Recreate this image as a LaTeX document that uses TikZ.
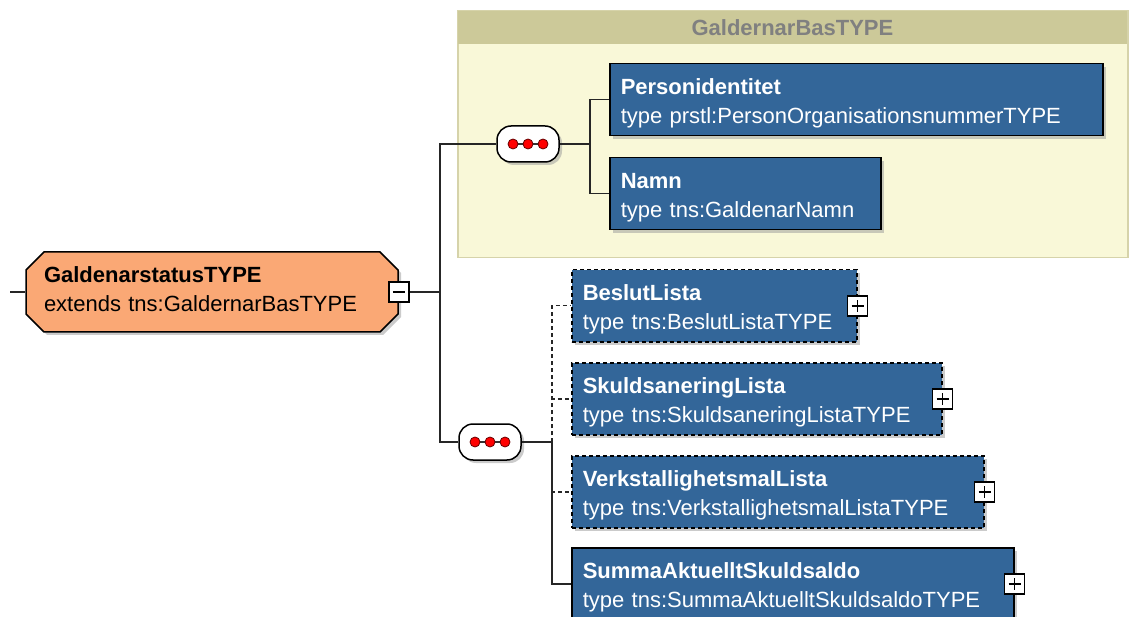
\documentclass[tikz,border=0pt]{standalone}
\usepackage{fontspec}
\setmainfont{Liberation Sans}
\usepackage{tikz}
\usetikzlibrary{shapes.misc}
\usetikzlibrary{shadows}

\definecolor{elemblue}{RGB}{51,102,153}
\definecolor{rootfill}{RGB}{250,168,117}
\definecolor{basbody}{RGB}{249,248,216}
\definecolor{bashead}{RGB}{204,201,153}
\definecolor{basline}{RGB}{214,211,170}
\definecolor{headtext}{RGB}{128,128,128}

\tikzset{
  boxshadow/.style={drop shadow={shadow xshift=3pt,shadow yshift=-3pt,fill=black!40,opacity=.5}},
  elem/.style={draw=black,line width=1.5pt,fill=elemblue,text=white,anchor=north west,
    minimum height=72pt,inner xsep=11pt,inner ysep=0pt,align=left,
    text height=16pt,text depth=26pt,boxshadow},
  optelem/.style={elem,dash pattern=on 4pt off 3pt},
  seqbox/.style={draw=black,line width=1.5pt,fill=white,rounded corners=14pt,
    minimum width=62pt,minimum height=36pt,inner sep=0pt,boxshadow},
  plusbox/.style={draw=black,line width=1.8pt,fill=white,minimum size=20pt,inner sep=0pt,
    path picture={
      \draw[line width=1.6pt] ([xshift=4pt]path picture bounding box.west) -- ([xshift=-4pt]path picture bounding box.east);
      \draw[line width=1.6pt] ([yshift=4pt]path picture bounding box.south) -- ([yshift=-4pt]path picture bounding box.north);
    }},
  minusbox/.style={draw=black,line width=1.8pt,fill=white,minimum size=20pt,inner sep=0pt,
    path picture={
      \draw[line width=1.6pt] ([xshift=4pt]path picture bounding box.west) -- ([xshift=-4pt]path picture bounding box.east);
    }},
  conn/.style={line width=1.5pt,black!85},
  optconn/.style={conn,dash pattern=on 4pt off 3pt}
}

\begin{document}
\begin{tikzpicture}[x=1pt,y=-1pt,
    font=\fontsize{22}{29}\selectfont]
  \useasboundingbox[fill=white] (0,0) rectangle (1129,617);

  % base type group
  \node[draw=basline,line width=1.5pt,fill=basbody,anchor=north west,
    minimum width=670pt,minimum height=247pt] (bas) at (457,10) {};
  \node[fill=bashead,anchor=north west,minimum width=669pt,minimum height=33pt,
    text=headtext,font=\fontsize{22}{29}\selectfont\bfseries] (bastitle)
    at ([xshift=0.75pt,yshift=-0.75pt]bas.north west) {GaldernarBasTYPE};

  \node[shape=chamfered rectangle,chamfered rectangle xsep=9pt,chamfered rectangle ysep=9pt,
    draw=black,line width=1.5pt,fill=rootfill,minimum width=372pt,minimum height=80pt,
    inner xsep=8pt,text width=336pt,align=left,text height=16pt,text depth=34pt,boxshadow]
    (root) at (212,292) {\textbf{GaldenarstatusTYPE}\\extends tns:GaldernarBasTYPE};
  \node[minusbox] (fold) at (root.east) {};

  \node[seqbox] (seqa) at (528,144) {};
  \node[seqbox] (seqb) at (490,442) {};
  \foreach \s in {seqa,seqb} {
    \draw[line width=1.6pt,black!80] ([xshift=-15pt]\s.center) -- ([xshift=15pt]\s.center);
    \foreach \d in {-15,0,15}
      \filldraw[fill=red,draw=red!40!black,line width=.8pt] ([xshift=\d pt]\s.center) circle (5pt);
  }

  \node[elem,text width=471pt] (pid) at (609,63)
    {\textbf{Personidentitet}\\type prstl:PersonOrganisationsnummerTYPE};
  \node[elem,text width=249pt] (namn) at (609,157)
    {\textbf{Namn}\\type tns:GaldenarNamn};

  \node[optelem,text width=263pt] (beslut) at (571,269)
    {\textbf{BeslutLista}\\type tns:BeslutListaTYPE};
  \node[optelem,text width=348pt] (skulds) at (571,362)
    {\textbf{SkuldsaneringLista}\\type tns:SkuldsaneringListaTYPE};
  \node[optelem,text width=390pt] (verk) at (571,455)
    {\textbf{VerkstallighetsmalLista}\\type tns:VerkstallighetsmalListaTYPE};
  \node[elem,text width=420pt] (summa) at (571,547)
    {\textbf{SummaAktuelltSkuldsaldo}\\type tns:SummaAktuelltSkuldsaldoTYPE};

  \node[plusbox] (beslutplus) at (beslut.east) {};
  \node[plusbox] (skuldsplus) at (skulds.east) {};
  \node[plusbox] (verkplus) at (verk.east) {};
  \node[plusbox] (summaplus) at (summa.east) {};

  \coordinate (in) at (10,292);
  \coordinate (fork) at (440,292);
  \coordinate (forka) at (590,144);
  \coordinate (forkb) at (552,442);

  \draw[conn] (in) -- (root.west);
  \draw[conn] (fold.east) -- (fork) |- (seqa.west);
  \draw[conn] (fork) |- (seqb.west);
  \draw[conn] (seqa.east) -- (forka) |- (pid.west);
  \draw[conn] (forka) |- (namn.west);
  \draw[optconn] (forkb) |- (beslut.west);
  \draw[optconn] (forkb) |- (skulds.west);
  \draw[optconn] (forkb) |- (verk.west);
  \draw[conn] (seqb.east) -- (forkb) |- (summa.west);
\end{tikzpicture}
\end{document}
